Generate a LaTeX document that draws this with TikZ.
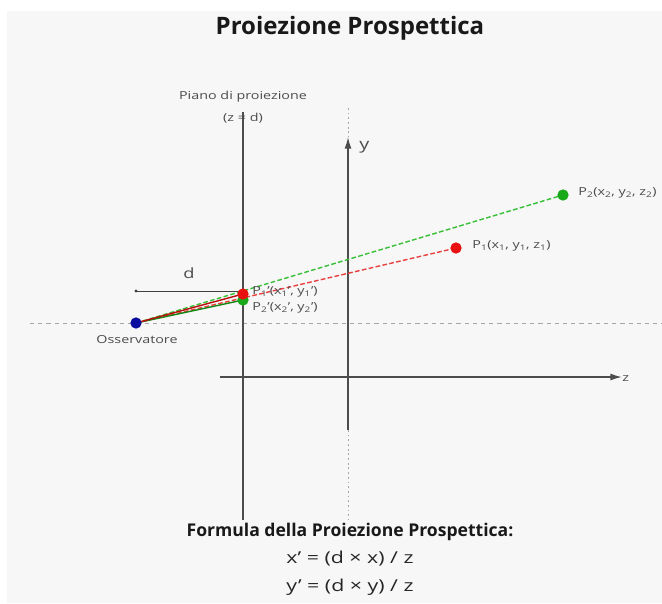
\documentclass[tikz,border=0pt]{standalone}
\usepackage{fontspec}
\setmainfont{Open Sans}[Ligatures={TeX,NoCommon}]
\newfontfamily\largofont{Open Sans}[FakeStretch=1.3, Ligatures={TeX,NoCommon}]
\usetikzlibrary{positioning, arrows.meta, backgrounds}

\begin{document}
\begin{tikzpicture}[
    x=0.03cm, y=-0.03cm,
    % Estilos de nodos
    punto/.style={
        circle, fill=#1, inner sep=0pt, minimum size=3.4mm
    },
    etiqueta/.style={
        font=\largofont\fontsize{9.4}{10}\selectfont, text=black!70, inner sep=1pt
    },
    titolo/.style={
        font=\fontsize{20.5}{22}\selectfont\bfseries, text=black!90
    },
    formula/.style={
        font=\largofont\fontsize{14}{16}\selectfont, text=black!85
    },
    asse/.style={
        draw=black!70, line width=1.3pt
    },
    freccia/.style={
        asse, -{Latex[length=10pt, width=6pt]}
    },
    raggio/.style={
        draw=#1, line width=1.2pt, dash pattern=on 4pt off 2pt
    },
    proiezione/.style={
        draw=#1, line width=1.2pt
    },
    guida/.style={
        draw=black!35, line width=0.8pt, dash pattern=on 3.5pt off 3.5pt
    },
    punteggiata/.style={
        draw=black!35, line width=0.8pt, dash pattern=on 1.5pt off 2.5pt
    }
]

% ── Definir colores ──
\definecolor{sfondo}{HTML}{F7F7F7}
\definecolor{osblue}{HTML}{0B0BA0}
\definecolor{p1red}{HTML}{E81010}
\definecolor{p2green}{HTML}{18A818}
\definecolor{raggiored}{HTML}{E84040}
\definecolor{raggiogreen}{HTML}{38C038}

\useasboundingbox (0,0) rectangle (662,603);

% ════════════════════════════════════════
% TITOLO
% ════════════════════════════════════════
\node[titolo] (tit) at (350,28) {Proiezione Prospettica};

% ════════════════════════════════════════
% ASSI e PIANO (coordinate)
% ════════════════════════════════════════
\coordinate (pianotop) at (243,112);
\coordinate (pianobot) at (243,520);
\coordinate (ytop)     at (348,108);
\coordinate (ytip)     at (348,137);
\coordinate (ybot)     at (348,430);
\coordinate (yend)     at (348,520);
\coordinate (zstart)   at (220,377);
\coordinate (ztip)     at (622,377);
\coordinate (gsx)      at (30,323);
\coordinate (gdx)      at (662,323);
\coordinate (dstart)   at (136,291);
\coordinate (dend)     at (243,291);

% ════════════════════════════════════════
% PUNTI
% ════════════════════════════════════════
\node[punto=osblue]  (oss) at (136,323) {};
\node[punto=p1red]   (p1)  at (456,248) {};
\node[punto=p2green] (p2)  at (563,195) {};
\node[punto=p2green] (p2p) at (243,300) {};
\node[punto=p1red]   (p1p) at (243,294) {};
\fill[black!75] (dstart) circle (1.4pt);

% ════════════════════════════════════════
% ETICHETTE
% ════════════════════════════════════════
\node[etiqueta] (piano) at (243,97)  {Piano di proiezione};
\node[etiqueta] (zd) at (243,118) {(z = d)};
\node[etiqueta, anchor=west, font=\largofont\fontsize{13}{14}\selectfont] (ylab) at (358,147) {y};
\node[etiqueta, anchor=west] (zlab) at (621,379) {z};
\node[etiqueta] (osslab) at (137,340) {Osservatore};
\node[etiqueta, font=\largofont\fontsize{12}{13}\selectfont] (dlab) at (189,273) {d};
\node[etiqueta, anchor=west] (p1lab)  at (471,246) {P\textsubscript{1}(x\textsubscript{1}, y\textsubscript{1}, z\textsubscript{1})};
\node[etiqueta, anchor=west] (p2lab)  at (577,193) {P\textsubscript{2}(x\textsubscript{2}, y\textsubscript{2}, z\textsubscript{2})};
\node[etiqueta, anchor=west] (p1plab) at (251,292) {P\textsubscript{1}'(x\textsubscript{1}', y\textsubscript{1}')};
\node[etiqueta, anchor=west] (p2plab) at (251,308) {P\textsubscript{2}'(x\textsubscript{2}', y\textsubscript{2}')};

% ════════════════════════════════════════
% FORMULA
% ════════════════════════════════════════
\node[titolo, font=\fontsize{15}{17}\selectfont\bfseries] (ftit) at (350,532) {Formula della Proiezione Prospettica:};
\node[formula] (fx) at (350,559) {x' = (d × x) / z};
\node[formula] (fy) at (350,587) {y' = (d × y) / z};

% ════════════════════════════════════════
% LINEE (fondo)
% ════════════════════════════════════════
\begin{scope}[on background layer]
    \fill[sfondo] (7,11) rectangle (662,603);
    % guida orizzontale
    \draw[guida] (gsx) -- (gdx);
    % piano di proiezione
    \draw[asse] (pianotop) -- (pianobot);
    % asse y
    \draw[punteggiata] (ytop) -- (ytip);
    \draw[freccia] (ybot) -- (ytip);
    \draw[punteggiata] (ybot) -- (yend);
    % asse z
    \draw[freccia] (zstart) -- (ztip);
    % distanza d
    \draw[draw=black!75, line width=0.8pt] (dstart) -- (dend);
    % raggi
    \draw[raggio=raggiogreen] (oss.center) -- (p2.center);
    \draw[raggio=raggiored]   (oss.center) -- (p1.center);
    \draw[proiezione=p2green!80!black] (oss.center) -- (p2p.center);
    \draw[proiezione=p1red!80!black]   (oss.center) -- (p1p.center);
\end{scope}

\end{tikzpicture}
\end{document}
